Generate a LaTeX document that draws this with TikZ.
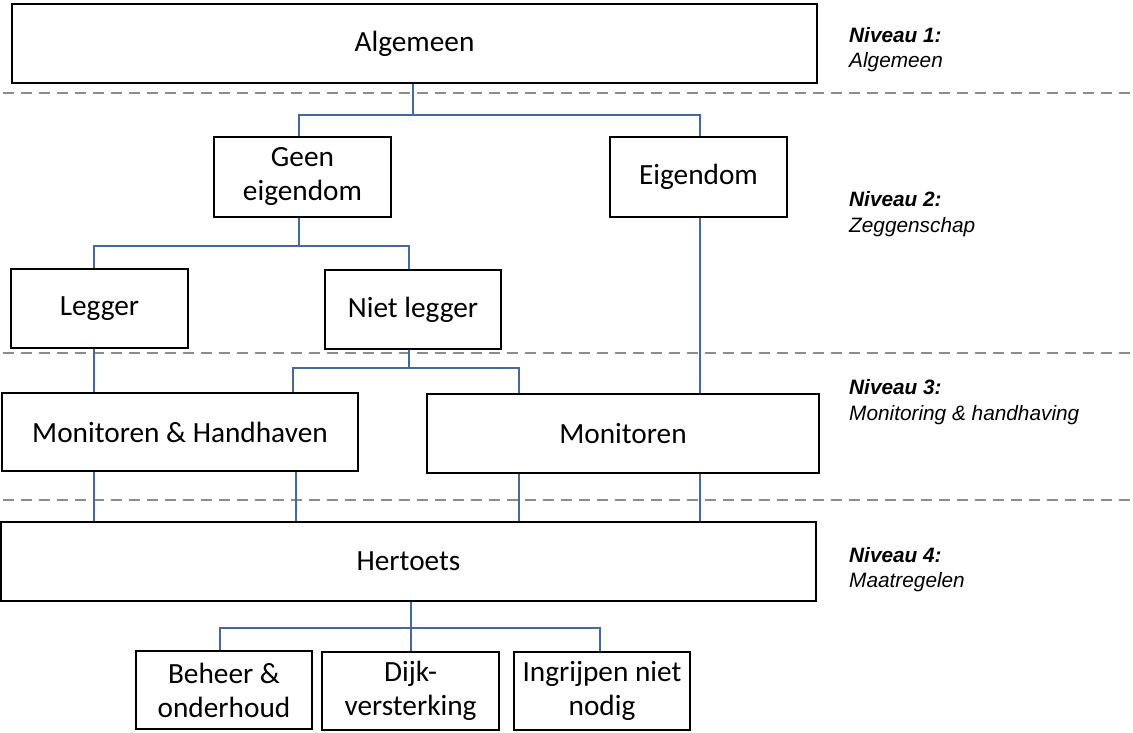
\documentclass[tikz,border=0pt]{standalone}
\usepackage{fontspec}
\setmainfont{Carlito}
\newfontfamily\sidefont{Liberation Sans}
\definecolor{connblue}{RGB}{70,105,155}
\definecolor{dashgray}{RGB}{140,140,140}
\begin{document}
\begin{tikzpicture}[x=1pt,y=-1pt,
  box/.style={draw=black, line width=2.7pt, fill=white, inner sep=0pt, align=center,
    font=\fontsize{29.3}{34}\selectfont},
  conn/.style={draw=connblue, line width=2pt},
  levelline/.style={draw=dashgray, line width=2pt, dash pattern=on 11pt off 7pt},
  lvlhead/.style={anchor=base west, inner sep=0pt, font=\sidefont\bfseries\itshape\fontsize{20.8}{25}\selectfont},
  lvlsub/.style={anchor=base west, inner sep=0pt, font=\sidefont\itshape\fontsize{20.8}{25}\selectfont}]
\useasboundingbox (0,0) rectangle (1133,733);

% level separators
\draw[levelline] (3,93) -- (1133,93);
\draw[levelline] (3,353) -- (1133,353);
\draw[levelline] (3,500) -- (1133,500);

% boxes
\node[box, minimum width=805pt, minimum height=79pt] (alg) at (414.5,43.5) {Algemeen};
\node[box, minimum width=177pt, minimum height=80pt] (geen) at (302.5,177) {Geen\\eigendom};
\node[box, minimum width=177pt, minimum height=80pt] (eig) at (698.5,177) {Eigendom};
\node[box, minimum width=177pt, minimum height=79pt] (leg) at (99.5,308.5) {Legger};
\node[box, minimum width=176pt, minimum height=79pt] (niet) at (413,309.5) {Niet legger};
\node[box, minimum width=356pt, minimum height=78pt] (mh) at (180,432) {Monitoren \& Handhaven};
\node[box, minimum width=392pt, minimum height=79pt] (mon) at (623,433.5) {Monitoren};
\node[box, minimum width=815pt, minimum height=79pt] (her) at (408.5,561.5) {Hertoets};
\node[box, minimum width=176pt, minimum height=78pt] (beh) at (224,690) {Beheer \&\\onderhoud};
\node[box, minimum width=177pt, minimum height=78pt] (dijk) at (410.5,691) {Dijk-\\versterking};
\node[box, minimum width=176pt, minimum height=78pt] (ingr) at (602,691) {Ingrijpen niet\\nodig};

% junction points
\coordinate (b1l) at (299,115);
\coordinate (b1m) at (413,115);
\coordinate (b1r) at (700,115);
\coordinate (b2l) at (93.5,246);
\coordinate (b2m) at (299,246);
\coordinate (b2r) at (409,246);
\coordinate (b3l) at (293,368);
\coordinate (b3m) at (409,368);
\coordinate (b3r) at (519,368);
\coordinate (c1) at (93.5,0);
\coordinate (c2) at (296,0);
\coordinate (c3) at (519,0);
\coordinate (c4) at (699.5,0);
\coordinate (b4l) at (220,628);
\coordinate (b4m) at (411,628);
\coordinate (b4r) at (600,628);

% connectors
\draw[conn] (alg.south -| b1m) -- (b1m);
\draw[conn] (geen.north -| b1l) -- (b1l) -- (b1r) -- (eig.north -| b1r);
\draw[conn] (geen.south -| b2m) -- (b2m);
\draw[conn] (leg.north -| b2l) -- (b2l) -- (b2r) -- (niet.north -| b2r);
\draw[conn] (leg.south -| c1) -- (mh.north -| c1);
\draw[conn] (niet.south -| b3m) -- (b3m);
\draw[conn] (mh.north -| b3l) -- (b3l) -- (b3r) -- (mon.north -| b3r);
\draw[conn] (eig.south -| c4) -- (mon.north -| c4);
\draw[conn] (mh.south -| c1) -- (her.north -| c1);
\draw[conn] (mh.south -| c2) -- (her.north -| c2);
\draw[conn] (mon.south -| c3) -- (her.north -| c3);
\draw[conn] (mon.south -| c4) -- (her.north -| c4);
\draw[conn] (her.south -| b4m) -- (dijk.north -| b4m);
\draw[conn] (beh.north -| b4l) -- (b4l) -- (b4r) -- (ingr.north -| b4r);

% level labels
\node[lvlhead] (n1a) at (849,43) {Niveau 1:};
\node[lvlsub] (n1b) at (849,68) {Algemeen};
\node[lvlhead] (n2a) at (849,206) {Niveau 2:};
\node[lvlsub] (n2b) at (849,232) {Zeggenschap};
\node[lvlhead] (n3a) at (849,394) {Niveau 3:};
\node[lvlsub] (n3b) at (849,420) {Monitoring \& handhaving};
\node[lvlhead] (n4a) at (849,562) {Niveau 4:};
\node[lvlsub] (n4b) at (849,587) {Maatregelen};
\end{tikzpicture}
\end{document}
